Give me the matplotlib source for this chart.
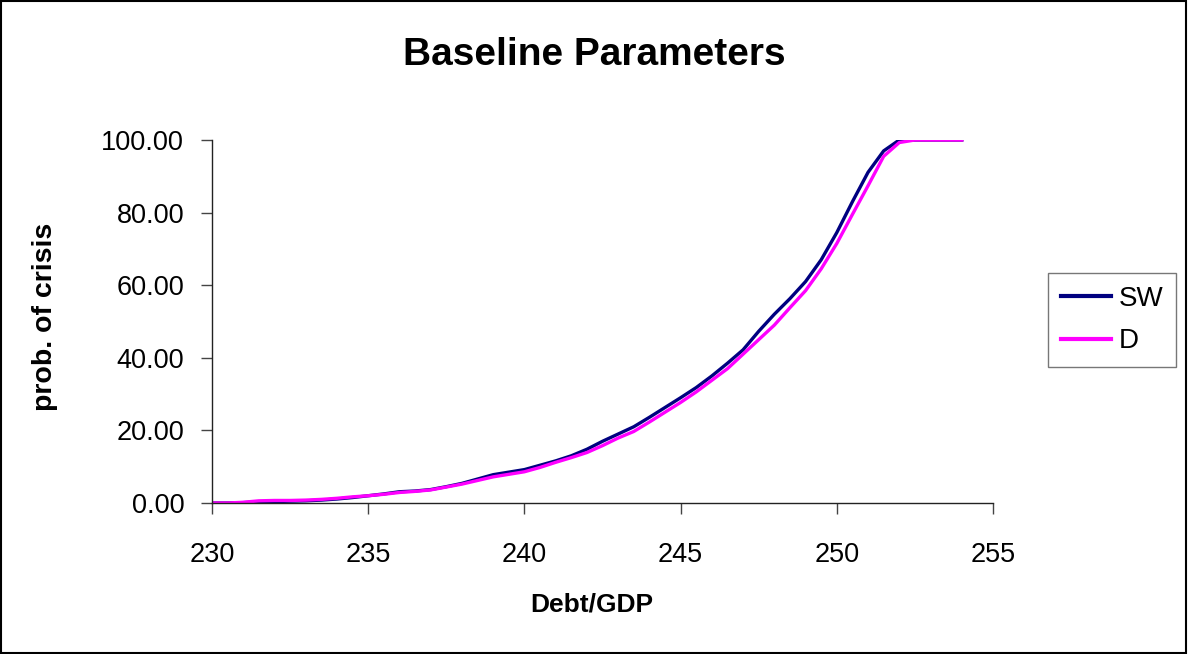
import matplotlib
matplotlib.use("Agg")
import matplotlib.pyplot as plt
from matplotlib.ticker import FormatStrFormatter
from matplotlib.patches import Rectangle

debt_gdp = [230, 230.5, 231, 231.5, 232, 232.5, 233, 233.5, 234, 234.5, 235, 235.5,
            236, 236.5, 237, 237.5, 238, 238.5, 239, 239.5, 240, 240.5, 241, 241.5,
            242, 242.5, 243, 243.5, 244, 244.5, 245, 245.5, 246, 246.5, 247, 247.5,
            248, 248.5, 249, 249.5, 250, 250.5, 251, 251.5, 252, 252.5, 253, 253.5, 254]

sw = [0, 0, 0.1, 0.3, 0.4, 0.5, 0.6, 0.8, 1.1, 1.5, 2.0, 2.5,
      3.1, 3.3, 3.7, 4.5, 5.4, 6.6, 7.8, 8.5, 9.2, 10.4, 11.6, 13.0,
      14.8, 17.0, 19.0, 21.0, 23.6, 26.3, 29.0, 31.8, 35.0, 38.5, 42.2, 47.3,
      52.0, 56.3, 61.0, 67.0, 74.5, 83.0, 91.1, 97.0, 100, 100, 100, 100, 100]

d = [0, 0, 0.2, 0.6, 0.7, 0.7, 0.8, 1.0, 1.3, 1.7, 2.0, 2.4,
     2.9, 3.2, 3.6, 4.4, 5.2, 6.2, 7.2, 7.9, 8.6, 9.8, 11.2, 12.5,
     13.9, 15.8, 17.9, 19.7, 22.3, 25.0, 27.7, 30.6, 33.8, 37.0, 41.0, 45.0,
     49.0, 53.8, 58.5, 64.5, 71.5, 79.5, 87.4, 95.5, 99.3, 100, 100, 100, 100]

x_ticks = [230, 235, 240, 245, 250, 255]
y_ticks = [0, 20, 40, 60, 80, 100]

plt.rcParams['font.family'] = ['Liberation Sans', 'DejaVu Sans']

fig = plt.figure(figsize=(11.88, 6.54), dpi=100)
ax = fig.add_axes([212/1188, 1 - 503/654, (993-212)/1188, (503-140)/654])

ax.plot(debt_gdp, sw, color='#000080', lw=2.4, label='SW')
ax.plot(debt_gdp, d, color='#FF00FF', lw=2.4, label='D')

ax.set_xlim(230, 255)
ax.set_ylim(0, 100)
ax.set_xticks(x_ticks)
ax.set_yticks(y_ticks)
ax.yaxis.set_major_formatter(FormatStrFormatter('%.2f'))
ax.spines['top'].set_visible(False)
ax.spines['right'].set_visible(False)
for s in ['left', 'bottom']:
    ax.spines[s].set_color('#222222')
    ax.spines[s].set_linewidth(1.0)
ax.tick_params(axis='both', direction='out', length=8, width=1.0, color='#444444',
               labelsize=19.5)
ax.tick_params(axis='y', pad=12)
ax.tick_params(axis='x', pad=20)

ax.set_xlabel('Debt/GDP', fontsize=19, fontweight='bold')
ax.xaxis.label.set_va('center')
ax.xaxis.set_label_coords(0.486, -(605 - 503) / 363)
ax.set_ylabel('prob. of crisis', fontsize=20.5, fontweight='bold')
ax.yaxis.label.set_va('center')
ax.yaxis.set_label_coords(-(212 - 45) / 781, (503 - 317) / 363)

fig.text(0.5, 1 - 55/654, 'Baseline Parameters', ha='center', va='center',
         fontsize=28, fontweight='bold')

leg = ax.legend(loc='center left', bbox_to_anchor=(1048/1188, 1 - 320/654),
                bbox_transform=fig.transFigure, frameon=True, fancybox=False,
                fontsize=20, handlelength=1.8, handletextpad=0.3,
                borderpad=0.45, labelspacing=0.6, borderaxespad=0)
leg.get_frame().set_edgecolor('#555555')
leg.get_frame().set_linewidth(1.0)
for h in leg.get_lines():
    h.set_linewidth(3.0)

fig.patches.append(Rectangle((0.001, 0.001), 0.997, 0.997, transform=fig.transFigure,
                             fill=False, edgecolor='black', lw=1.5))

fig.savefig('out.png', dpi=100)
